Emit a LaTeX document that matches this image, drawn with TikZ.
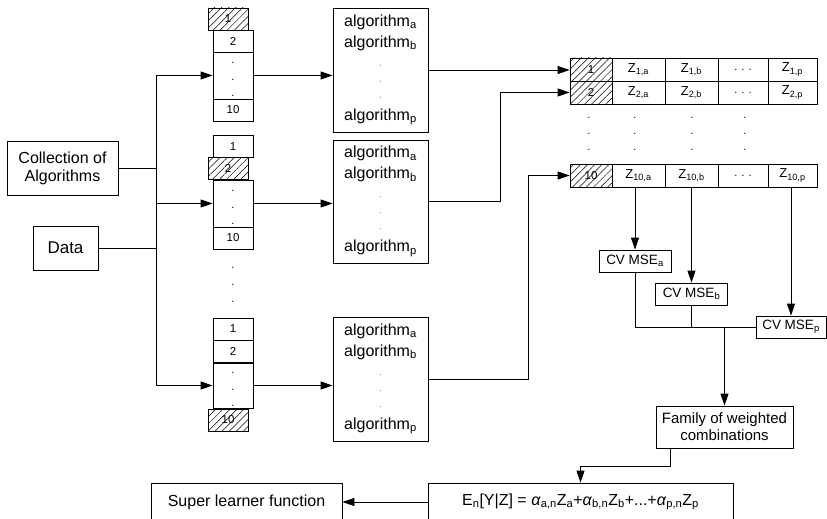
\documentclass[tikz,border=0pt]{standalone}
\usepackage{fontspec}
\setmainfont{Liberation Sans}
\usetikzlibrary{arrows.meta,patterns.meta}

\begin{document}
\begin{tikzpicture}[
    x=1pt, y=-1pt,
    every node/.style={inner sep=0pt},
    wire/.style={line width=0.8pt},
    cell/.style={rectangle, draw=black, line width=0.8pt, minimum width=40pt, minimum height=22pt, text centered, font=\fontsize{11.5}{13}\selectfont},
    hatched/.style={cell, pattern={Lines[angle=45,distance=5pt,line width=0.5pt]}},
    dotcell/.style={cell, minimum height=47pt, align=center, font=\fontsize{11}{16.5}\selectfont},
    dotcol/.style={align=center, font=\fontsize{11}{16.5}\selectfont},
    algbox/.style={rectangle, draw=black, line width=0.8pt, minimum width=95pt, minimum height=124pt, align=center, font=\fontsize{16}{16}\selectfont},
    zcell/.style={rectangle, draw=black, line width=0.8pt, minimum width=53pt, minimum height=23pt, text centered, font=\fontsize{13}{15}\selectfont},
    zidx/.style={zcell, minimum width=42pt, font=\fontsize{11.5}{13}\selectfont, pattern={Lines[angle=45,distance=5pt,line width=0.5pt]}},
    msebox/.style={rectangle, draw=black, line width=0.8pt, minimum width=72pt, minimum height=22pt, text centered, font=\fontsize{13.5}{16}\selectfont},
    bigbox/.style={rectangle, draw=black, line width=0.8pt, align=center, font=\fontsize{16}{18}\selectfont},
    arrow/.style={wire, -{Triangle[length=12pt,width=8pt]}}
]
\useasboundingbox (0,0) rectangle (827,519);
\clip (0,0) rectangle (827,519);

% Inputs
\node[bigbox, minimum width=111pt, minimum height=54pt] (collection) at (62.5,168) {Collection of\\Algorithms};
\node[bigbox, minimum width=65pt, minimum height=44pt, font=\fontsize{17}{19}\selectfont] (data) at (65.5,248) {Data};
\coordinate (bus) at (156,0);

% Folds
\node[hatched] (s1c1) at (228,19) {1};
\node[cell] (s1c2) at (233,41) {2};
\node[dotcell] (s1d) at (233,75.5) {\rule{0pt}{9pt}.\\.\\.};
\node[cell] (s1c10) at (233,110) {10};

\node[cell] (s2c1) at (233,146.5) {1};
\node[hatched] (s2c2) at (228,168.5) {2};
\node[dotcell] (s2d) at (233,203.5) {\rule{0pt}{9pt}.\\.\\.};
\node[cell] (s2c10) at (233,238) {10};

\node[dotcol, font=\fontsize{11}{17}\selectfont] (sdots) at (233,285) {.\\.\\.};

\node[cell] (s3c1) at (233,329) {1};
\node[cell] (s3c2) at (233,351.5) {2};
\node[dotcell, minimum height=45pt] (s3d) at (233,385.5) {\rule{0pt}{9pt}.\\.\\.};
\node[hatched] (s3c10) at (228,420) {10};

% Algorithms per fold
\foreach \n/\y/\h in {1/70/124, 2/201.5/123, 3/379/124}
  \node[algbox, minimum height=\h pt] (alg\n) at (380.5,\y) {algorithm\textsubscript{a}\\[5pt]algorithm\textsubscript{b}\\[3pt]{\color{gray}\fontsize{10}{16}\selectfont.}\\{\color{gray}\fontsize{10}{16}\selectfont.}\\{\color{gray}\fontsize{10}{16}\selectfont.}\\[6pt]algorithm\textsubscript{p}};

% Predictions table
\foreach \r/\y in {1/69.5, 2/92.5, 10/175.5} {
  \node[zidx] (z\r i) at (591,\y) {\r};
  \node[zcell] (z\r a) at (638.5,\y) {Z\textsubscript{\r,a}};
  \node[zcell] (z\r b) at (691.5,\y) {Z\textsubscript{\r,b}};
  \node[zcell, minimum width=50pt, font=\fontsize{11}{13}\selectfont] (z\r d) at (743,\y) {. . .};
  \node[zcell, minimum width=49pt] (z\r p) at (792.5,\y) {Z\textsubscript{\r,p}};
}
\foreach \c/\x in {i/589, a/635, b/692, d/745}
  \node[dotcol, font=\fontsize{11}{16}\selectfont] (zdots\c) at (\x,134) {.\\.\\.};

% Cross-validated risks
\node[msebox] (msea) at (635,261) {CV MSE\textsubscript{a}};
\node[msebox] (mseb) at (691.5,294) {CV MSE\textsubscript{b}};
\node[msebox, minimum width=70pt] (msep) at (791,327) {CV MSE\textsubscript{p}};

\node[bigbox, minimum width=137pt, minimum height=42pt, font=\fontsize{15}{17}\selectfont] (family) at (724.5,427) {Family of weighted\\combinations};
\node[bigbox, minimum width=305pt, minimum height=38pt] (formula) at (580.5,502) {E\textsubscript{n}[Y|Z] = \textit{α}\textsubscript{a,n}Z\textsubscript{a}+\textit{α}\textsubscript{b,n}Z\textsubscript{b}+...+\textit{α}\textsubscript{p,n}Z\textsubscript{p}};
\node[bigbox, minimum width=191pt, minimum height=38pt] (super) at (246.5,502) {Super learner function};

% Splitting
\draw[wire] (collection.east) -- (collection.east -| bus);
\draw[wire] (data.east) -- (data.east -| bus);
\draw[wire] (bus |- s1d.west) -- (bus |- s3d.west);
\draw[arrow] (bus |- s1d.west) -- (s1d.west);
\draw[arrow] (bus |- s2d.west) -- (s2d.west);
\draw[arrow] (bus |- s3d.west) -- (s3d.west);

% Fitting
\draw[arrow] (s1d.east) -- (s1d.east -| alg1.west);
\draw[arrow] (s2d.east) -- (s2d.east -| alg2.west);
\draw[arrow] (s3d.east) -- (s3d.east -| alg3.west);

\draw[arrow] (alg1.east) -- (alg1.east -| z1i.west);
\draw[arrow] (alg2.east) -- ++(72,0) |- (z2i.west);
\draw[arrow] (alg3.east) -- ++(100,0) |- (z10i.west);

% Risks and combination
\draw[arrow] (z10a.south -| msea.north) -- (msea.north);
\draw[arrow] (z10b.south -| mseb.north) -- (mseb.north);
\draw[arrow] (z10p.south -| msep.north) -- (msep.north);

\draw[wire] (msea.south) |- (msep.west);
\draw[wire] (mseb.south) -- (mseb.south |- msep.west);
\draw[arrow] (family.north |- msep.west) -- (family.north);

\draw[arrow] ([xshift=-54.5pt]family.south) -- ++(0,18) -| (formula.north);
\draw[arrow] (formula.west) -- (super.east);

\end{tikzpicture}
\end{document}
